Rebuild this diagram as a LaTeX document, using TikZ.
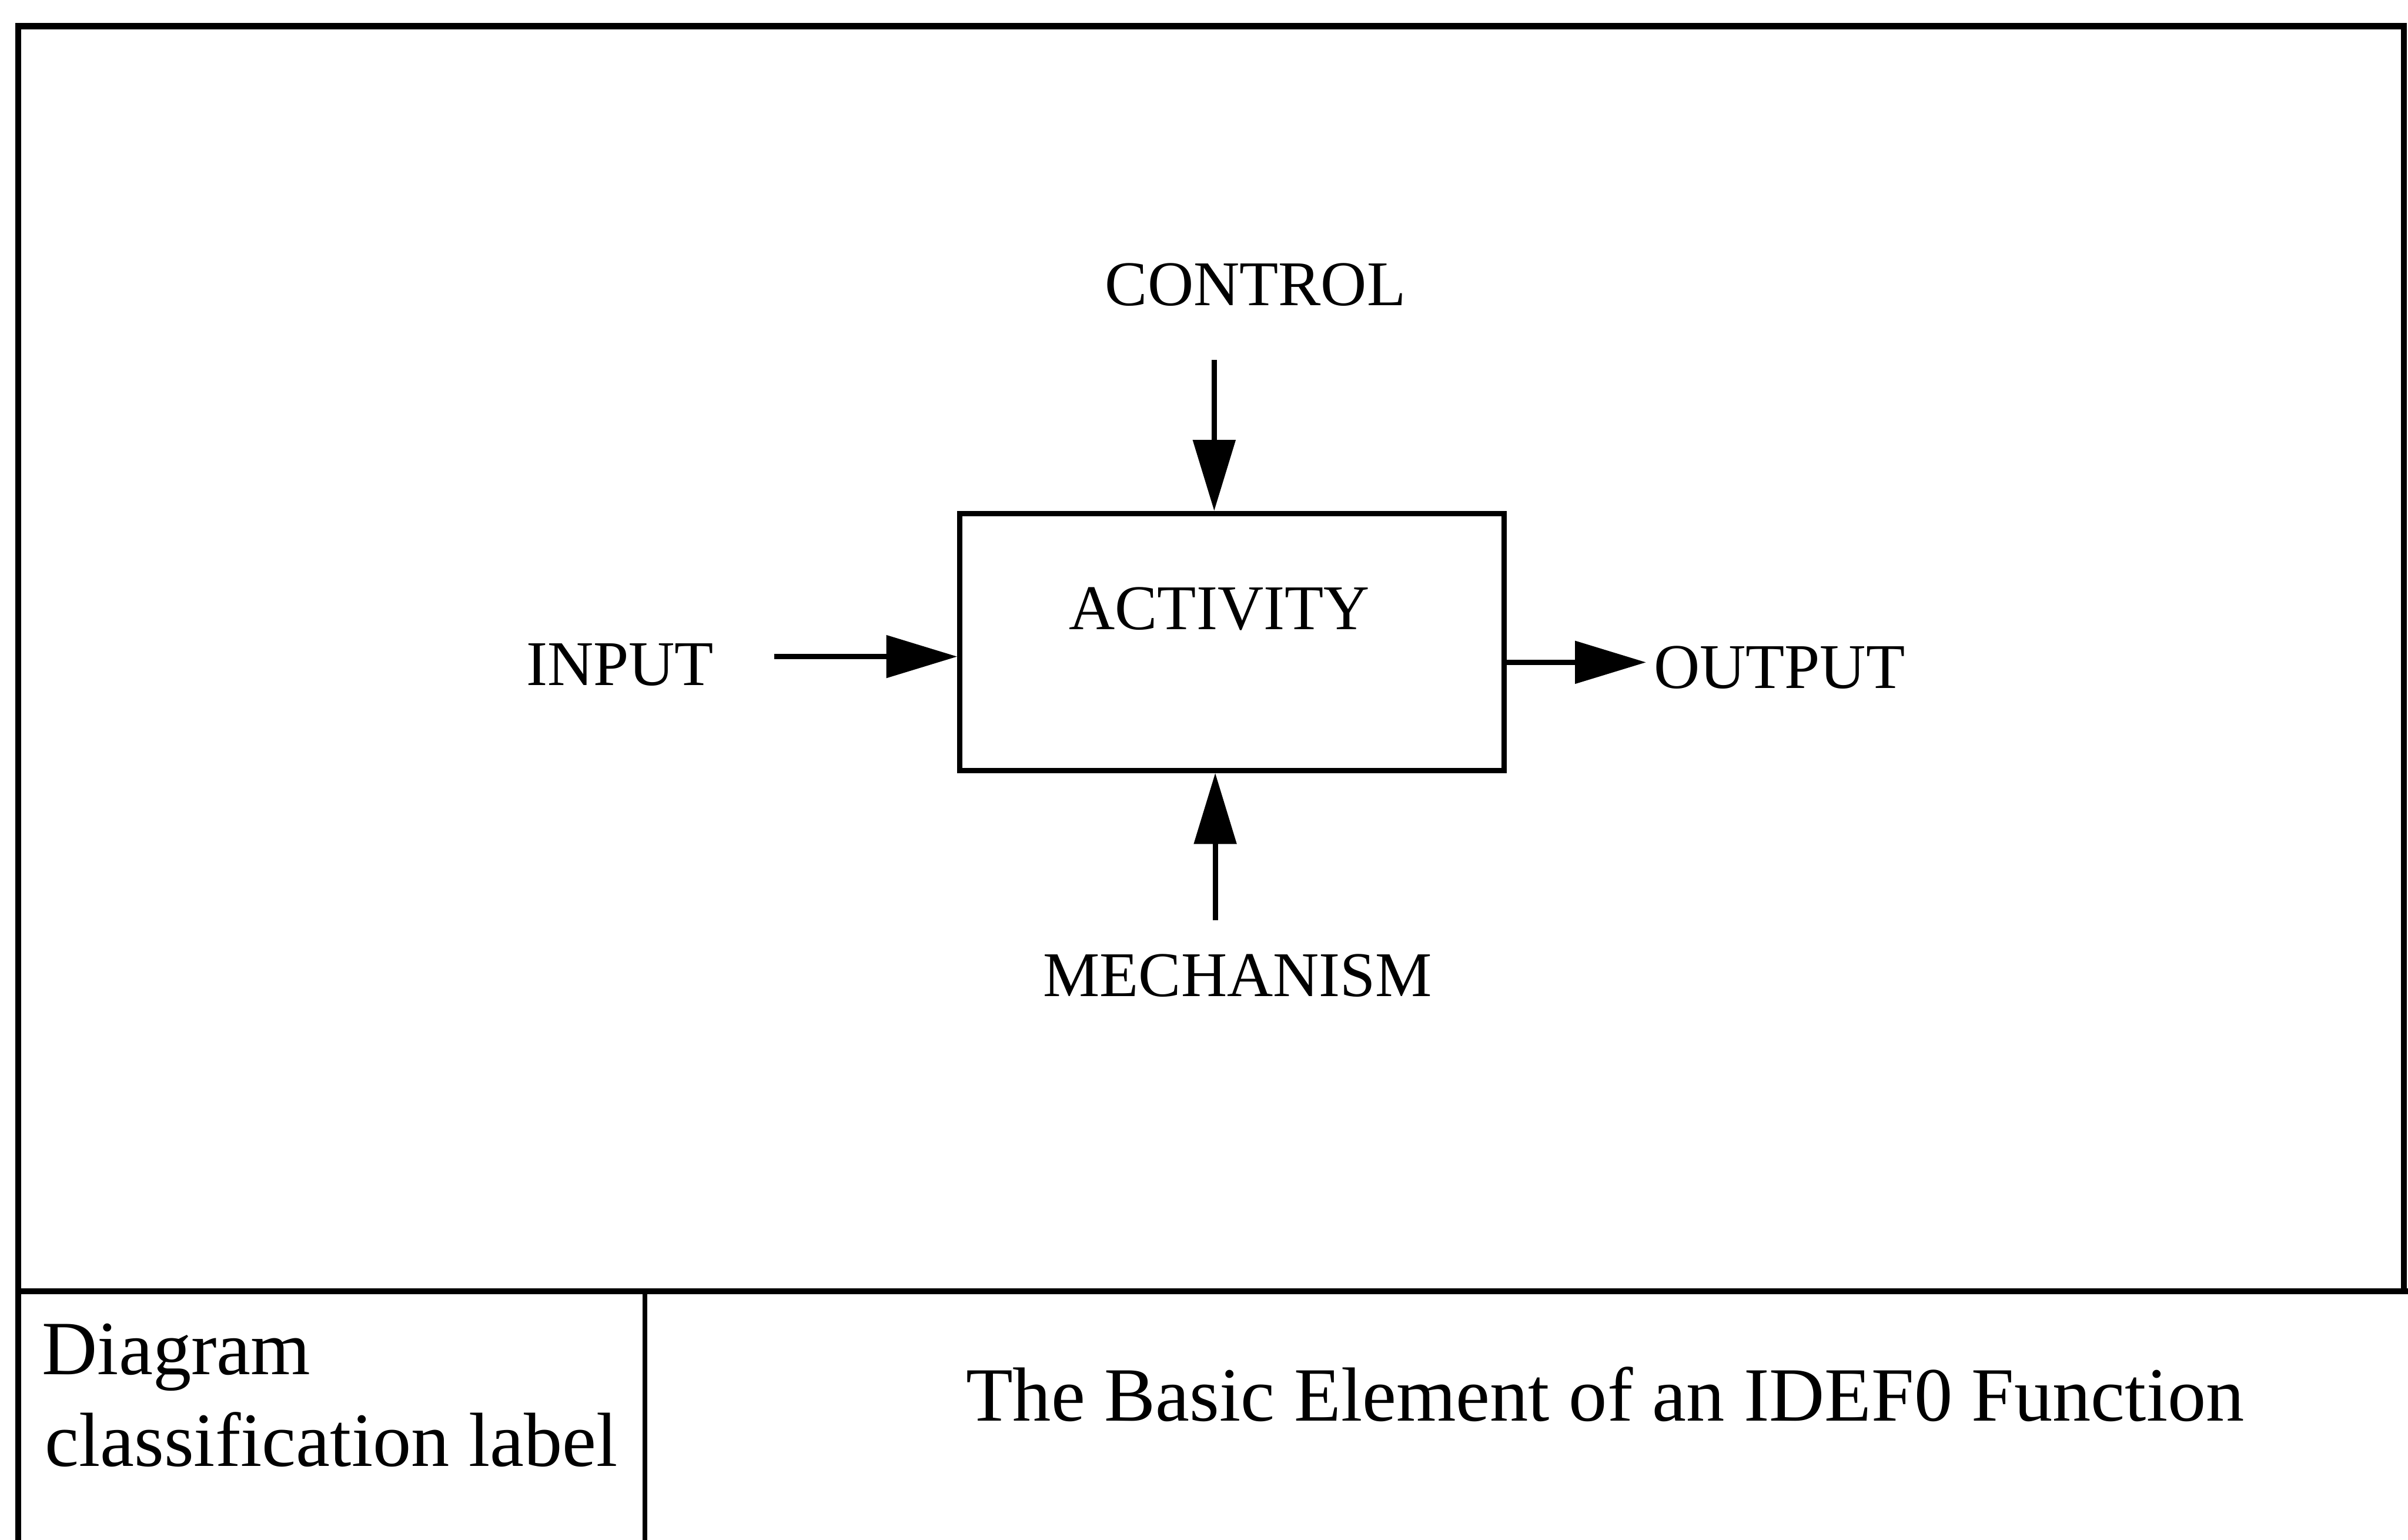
\documentclass[tikz,border=0pt]{standalone}
\usepackage{fontspec}
\setmainfont{Liberation Serif}
\usetikzlibrary{arrows.meta,calc}

\tikzset{
  frameline/.style={line width=3.4pt, line cap=rect},
  thinframe/.style={line width=2.8pt},
  actbox/.style={draw, line width=2.8pt, minimum width=10.42cm, minimum height=4.92cm, inner sep=0pt},
  flow/.style={line width=2.8pt, -{Triangle[length=1.36cm,width=0.8cm]}},
  tag/.style={font=\fontsize{34.7}{41.6}\selectfont, inner sep=0pt},
  bigtag/.style={font=\fontsize{41.8}{50}\selectfont, inner sep=0pt, align=left},
}

\begin{document}
\begin{tikzpicture}
  \useasboundingbox (0,0) rectangle (46.11,-29.48);

  % outer sheet border and title block
  \draw[frameline] (0.35,-29.6) -- (0.35,-0.5) -- (46.03,-0.5) -- (46.03,-24.72);
  \draw[frameline] (0.35,-24.72) -- (46.2,-24.72);
  \draw[thinframe] (12.35,-24.72) -- (12.35,-29.6);

  % the activity box
  \node[actbox] (act) at (23.59,-12.29) {};
  \node[tag, anchor=base] (acttxt) at (23.35,-12.05) {ACTIVITY};

  % labels
  \node[tag, anchor=base west] (input) at (10.07,-13.12) {INPUT};
  \node[tag, anchor=base west] (output) at (31.66,-13.18) {OUTPUT};
  \node[tag, anchor=base] (control) at (24.04,-5.85) {CONTROL};
  \node[tag, anchor=base] (mech) at (23.70,-19.08) {MECHANISM};

  % free ends of the arrows
  \coordinate (inS) at (14.83,-12.57);
  \coordinate (outE) at (31.52,-12.68);
  \coordinate (ctlS) at (23.25,-6.89);
  \coordinate (mecS) at (23.27,-17.62);

  % ICOM arrows
  \draw[flow] (inS) -- (inS -| act.west);
  \draw[flow] (outE -| act.east) -- (outE);
  \draw[flow] (ctlS) -- (ctlS |- act.north);
  \draw[flow] (mecS) -- (mecS |- act.south);

  % title block text
  \node[bigtag, anchor=base west] (cls) at (0.80,-26.31) {Diagram};
  \node[bigtag, anchor=base west] (cls2) at (0.85,-28.07) {classification label};
  \node[bigtag, anchor=base west] (title) at (18.49,-27.20) {The Basic Element of an IDEF0 Function};
\end{tikzpicture}
\end{document}
